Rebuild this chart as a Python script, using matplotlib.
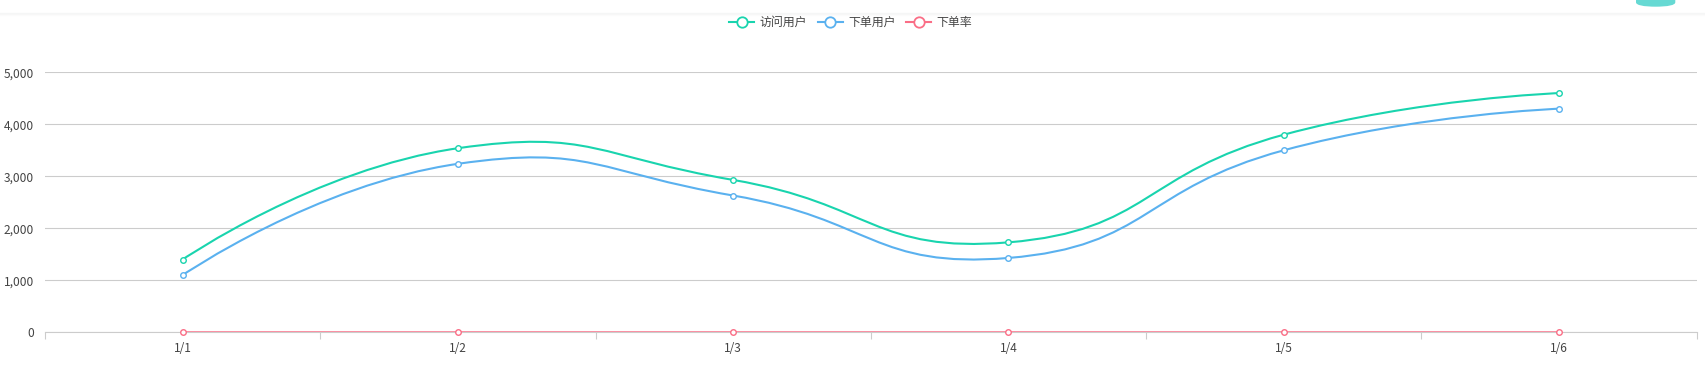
import numpy as np
import matplotlib
matplotlib.use("Agg")
import matplotlib.pyplot as plt
from matplotlib.path import Path
from matplotlib.patches import PathPatch, FancyBboxPatch
from matplotlib.lines import Line2D

plt.rcParams['font.family'] = ['Noto Sans CJK SC', 'DejaVu Sans']

categories = ["1/1", "1/2", "1/3", "1/4", "1/5", "1/6"]
series_names = ["访问用户", "下单用户", "下单率"]
visit_users = [1400, 3540, 2930, 1730, 3800, 4600]
order_users = [1100, 3240, 2630, 1430, 3500, 4300]
order_rate = [0, 0, 0, 0, 0, 0]
colors = ["#19d4ae", "#5ab1ef", "#fa6e86"]
yticks = [0, 1000, 2000, 3000, 4000, 5000]

W, H = 1706, 367
fig = plt.figure(figsize=(W / 100, H / 100), dpi=100)
ax_l, ax_r, ax_b, ax_t = 45, 1696.7, 332.3, 72.3
ax = fig.add_axes([ax_l / W, 1 - ax_b / H, (ax_r - ax_l) / W, (ax_b - ax_t) / H])
n = len(categories)
ax.set_xlim(-0.5, n - 0.5)
ax.set_ylim(0, 5000)

# pixel scale for smoothing (echarts computes in pixels)
sx = (ax_r - ax_l) / n
sy = (ax_b - ax_t) / 5000.0


def smooth_path(xs, ys, smooth=0.5):
    pts = np.array([[x * sx, y * sy] for x, y in zip(xs, ys)], dtype=float)
    mn = pts.min(axis=0)
    mx = pts.max(axis=0)
    verts = [tuple(pts[0])]
    codes = [Path.MOVETO]
    cp1 = pts[0].copy()
    m = len(pts)
    for i in range(1, m):
        p = pts[i]
        prev = pts[i - 1]
        if i + 1 < m:
            nxt = pts[i + 1]
            v = nxt - prev
            lp = np.linalg.norm(p - prev)
            ln = np.linalg.norm(nxt - p)
            ratio = ln / (ln + lp)
            cp0 = p - v * smooth * (1 - ratio)
        else:
            v = np.zeros(2)
            ratio = 0.5
            cp0 = p.copy()
        cp0 = np.minimum(np.maximum(cp0, mn), mx)
        verts += [tuple(cp1), tuple(cp0), tuple(p)]
        codes += [Path.CURVE4] * 3
        cp1 = p + v * smooth * ratio
        cp1 = np.minimum(np.maximum(cp1, mn), mx)
    verts = [(x / sx, y / sy) for x, y in verts]
    return Path(verts, codes)


xs = np.arange(n)
for vals, c in zip([visit_users, order_users, order_rate], colors):
    path = smooth_path(xs, vals)
    ax.add_patch(PathPatch(path, facecolor='none', edgecolor=c, lw=1.5, zorder=3,
                           capstyle='round', joinstyle='round'))
    ax.plot(xs, vals, linestyle='none', marker='o', markersize=4,
            markerfacecolor='white', markeredgecolor=c, markeredgewidth=1.0,
            zorder=4, clip_on=False)

# grid & axes
ax.set_yticks(yticks)
ax.set_yticklabels([f"{v:,}" for v in yticks])
ax.yaxis.grid(True, color='#cccccc', lw=0.8)
ax.set_axisbelow(True)
for s in ['top', 'right', 'left']:
    ax.spines[s].set_visible(False)
ax.spines['bottom'].set_color('#cccccc')
ax.spines['bottom'].set_linewidth(0.8)
ax.tick_params(axis='y', length=0, pad=8, labelsize=8.6, labelcolor='#444444')
ax.set_xticks(np.arange(-0.5, n, 1.0), minor=False)
ax.set_xticklabels([])
ax.tick_params(axis='x', which='major', length=5, color='#cccccc', width=0.8)
ax.set_xticks(xs, minor=True)
ax.set_xticklabels(categories, minor=True)
ax.tick_params(axis='x', which='minor', length=0, pad=7, labelsize=8.6,
               labelcolor='#444444')

# top header line with soft shadow
for k, a in enumerate([0.10, 0.06, 0.03]):
    fig.add_artist(Line2D([0, 1], [1 - (12.5 + k) / H] * 2, transform=fig.transFigure,
                          color='#b0b8b8', alpha=a, lw=1))
# teal button at top right
fig.add_artist(FancyBboxPatch((1636 / W, 1 - 6.7 / H), 39.3 / W, 12 / H,
                              boxstyle="round,pad=0,rounding_size=0.012",
                              transform=fig.transFigure, facecolor='#66d9d3',
                              edgecolor='none', mutation_aspect=1.0))

# legend
ly = 1 - 22.3 / H
label_w = [48, 48, 36]
x = 729.3
for name, c, lw_ in zip(series_names, colors, label_w):
    fig.add_artist(Line2D([x / W, (x + 25) / W], [ly, ly], transform=fig.transFigure,
                          color=c, lw=1.5))
    fig.add_artist(Line2D([(x + 12.5) / W], [ly], transform=fig.transFigure,
                          marker='o', markersize=7.5, markerfacecolor='white',
                          markeredgecolor=c, markeredgewidth=1.3, linestyle='none'))
    fig.text((x + 30.5) / W, ly, name, fontsize=8.6, color='#444444',
             va='center', ha='left')
    x += 30.5 + lw_ + 10

fig.savefig("out.png", dpi=100, facecolor='white')
